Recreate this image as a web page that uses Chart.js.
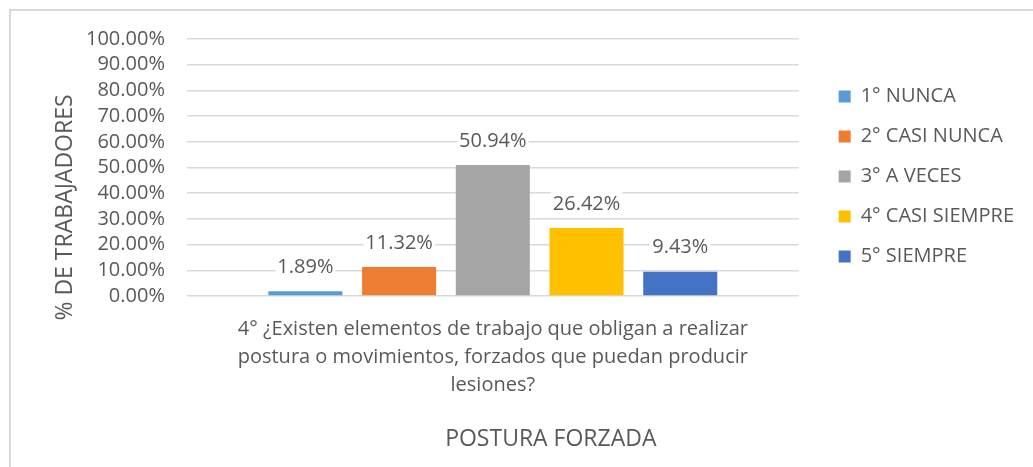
<!DOCTYPE html>
<html>
<head>
<meta charset="utf-8">
<script src="https://cdn.jsdelivr.net/npm/chart.js@4/dist/chart.umd.min.js"></script>
<style>
  html, body { margin: 0; padding: 0; background: #fff; }
  #wrap { position: relative; width: 1033px; height: 467px; }
  #frame {
    position: absolute; left: 9px; top: 9px; right: -5px; bottom: -5px;
    border-left: 2px solid #d9d9d9; border-top: 2px solid #d9d9d9;
    pointer-events: none;
  }
</style>
</head>
<body>
<div id="wrap">
  <canvas id="bar-chart" width="1033" height="467"></canvas>
  <div id="frame"></div>
</div>
<script>
// chart data
const categories = [['4° ¿Existen elementos de trabajo que obligan a realizar',
  'postura o movimientos, forzados que puedan producir', 'lesiones?']];
const seriesNames = ['1° NUNCA', '2° CASI NUNCA', '3° A VECES', '4° CASI SIEMPRE', '5° SIEMPRE'];
const seriesValues = [1.89, 11.32, 50.94, 26.42, 9.43];
const seriesColors = ['#5B9BD5', '#ED7D31', '#A5A5A5', '#FFC000', '#4472C4'];
const xTitle = 'POSTURA FORZADA';
const yTitle = '% DE TRABAJADORES';

const textColor = '#595959';
const fontFamily = '"Open Sans", sans-serif';
const legendPadding = 20;

// draws the value above every bar, on a white box like Excel does
const barLabels = {
  id: 'barLabels',
  afterDatasetsDraw(chart) {
    const ctx = chart.ctx;
    ctx.save();
    ctx.font = '20px ' + fontFamily;
    ctx.textAlign = 'center';
    ctx.textBaseline = 'middle';
    chart.data.datasets.forEach((ds, i) => {
      const meta = chart.getDatasetMeta(i);
      meta.data.forEach((bar, j) => {
        const text = ds.data[j].toFixed(2) + '%';
        const y = bar.y - 24;
        const w = ctx.measureText(text).width;
        ctx.fillStyle = '#fff';
        ctx.fillRect(bar.x - w / 2 - 2, y - 12, w + 4, 24);
        ctx.fillStyle = textColor;
        ctx.fillText(text, bar.x, y);
      });
    });
    ctx.restore();
  }
};

// axis titles placed the way Excel put them
const axisTitles = {
  id: 'axisTitles',
  afterDraw(chart) {
    const ctx = chart.ctx;
    const area = chart.chartArea;
    ctx.save();
    ctx.font = '23px ' + fontFamily;
    ctx.fillStyle = textColor;
    ctx.textAlign = 'center';
    ctx.textBaseline = 'middle';
    ctx.fillText(xTitle, (area.left + area.right) / 2 + 58, area.bottom + 143);
    ctx.translate(65, (area.top + area.bottom) / 2 + 40);
    ctx.rotate(-Math.PI / 2);
    ctx.fillText(yTitle, 0, 0);
    ctx.restore();
  }
};

// nudge the legend to where it sits in the original
const legendSpot = {
  id: 'legendSpot',
  afterLayout(chart) {
    const lg = chart.legend;
    if (!lg) return;
    const dx = chart.chartArea.right + 40 - legendPadding - lg.left;
    lg.left += dx;
    lg.right += dx;
    lg.top += 9;
    lg.bottom += 9;
  }
};

const ctx = document.getElementById('bar-chart').getContext('2d');

new Chart(ctx, {
  type: 'bar',
  data: {
    labels: categories,
    datasets: seriesNames.map((name, i) => ({
      label: name,
      data: [seriesValues[i]],
      backgroundColor: seriesColors[i],
      borderWidth: 0,
      categoryPercentage: 0.766,
      barPercentage: 0.79,
    }))
  },
  options: {
    responsive: false,
    animation: false,
    layout: {
      padding: { left: 64, right: 29, top: 39, bottom: 57 }
    },
    plugins: {
      legend: {
        position: 'right',
        fullSize: false,
        labels: {
          boxWidth: 12,
          boxHeight: 12,
          padding: legendPadding,
          color: textColor,
          font: { family: fontFamily, size: 20 }
        }
      },
      tooltip: { enabled: false }
    },
    scales: {
      x: {
        grid: { display: false },
        border: { display: false },
        ticks: {
          color: textColor,
          padding: 11,
          maxRotation: 0,
          font: { family: fontFamily, size: 20, lineHeight: 1.4 }
        }
      },
      y: {
        min: 0,
        max: 100,
        border: { display: false },
        grid: { color: '#d9d9d9', lineWidth: 1.5, drawTicks: false },
        ticks: {
          stepSize: 10,
          autoSkip: false,
          padding: 22,
          color: textColor,
          font: { family: fontFamily, size: 20 },
          callback: v => v.toFixed(2) + '%'
        }
      }
    }
  },
  plugins: [barLabels, axisTitles, legendSpot]
});
</script>
</body>
</html>
